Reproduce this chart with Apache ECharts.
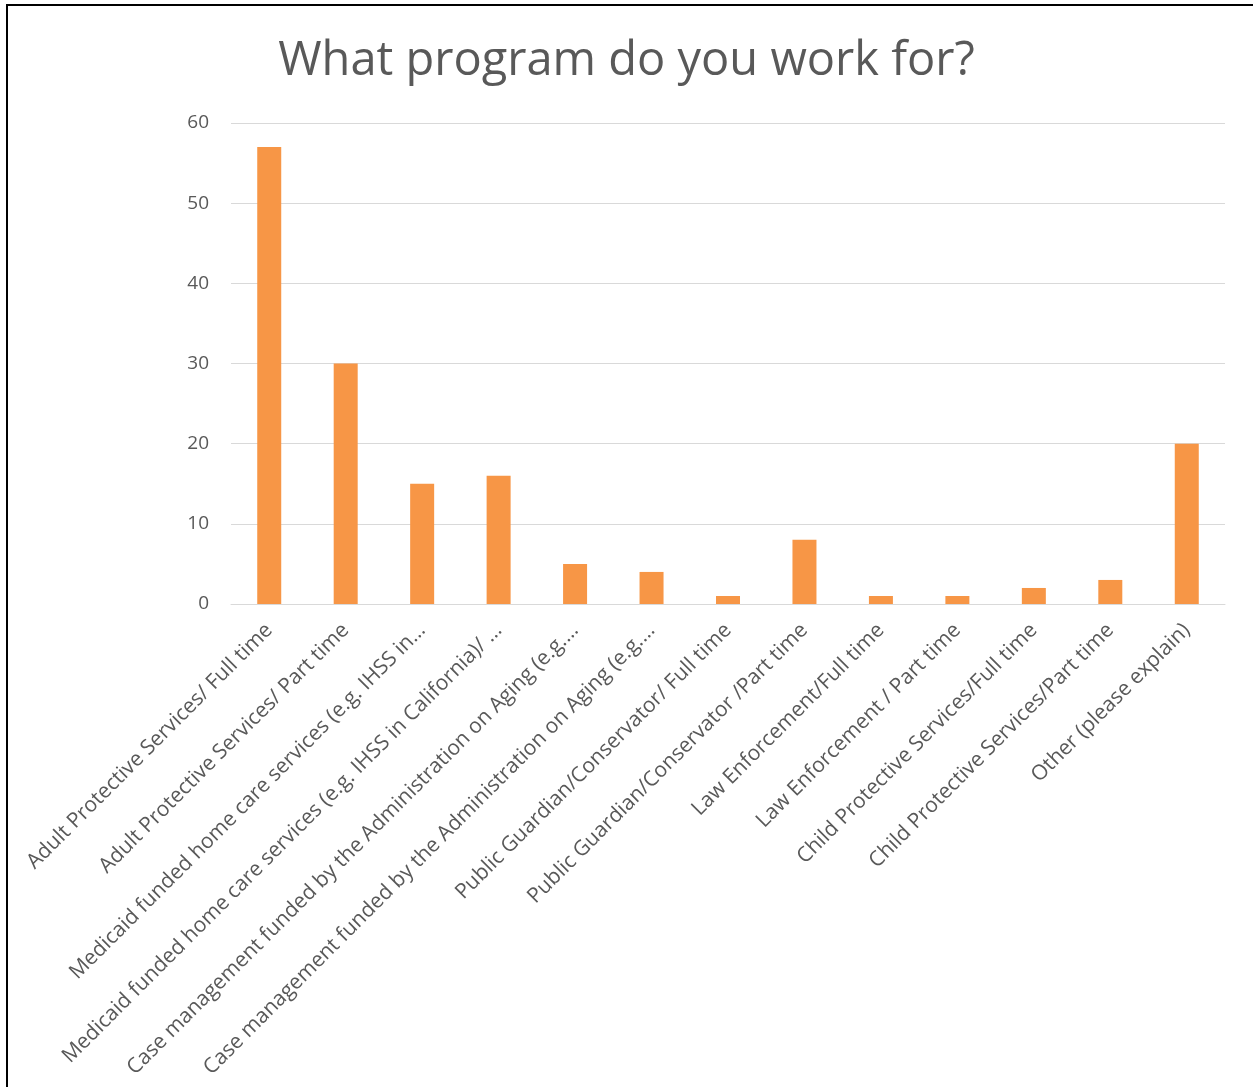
<!DOCTYPE html>
<html>
<head>
<meta charset="utf-8">
<script src="https://cdn.jsdelivr.net/npm/echarts@6/dist/echarts.min.js"></script>
<style>
html,body{margin:0;padding:0;background:#fff;}
#chart{width:1253px;height:1087px;}
</style>
</head>
<body>
<div id="chart"></div>
<script>
const titleText = 'What program do you work for?';
const categories = [
  'Adult Protective Services/ Full time',
  'Adult Protective Services/ Part time',
  'Medicaid funded home care services (e.g. IHSS in…',
  'Medicaid funded home care services (e.g. IHSS in California)/ …',
  'Case management funded by the Administration on Aging (e.g.…',
  'Case management funded by the Administration on Aging (e.g.…',
  'Public Guardian/Conservator/ Full time',
  'Public Guardian/Conservator /Part time',
  'Law Enforcement/Full time',
  'Law Enforcement / Part time',
  'Child Protective Services/Full time',
  'Child Protective Services/Part time',
  'Other (please explain)'
];
const values = [57, 30, 15, 16, 5, 4, 1, 8, 1, 1, 2, 3, 20];
const yTicks = {min: 0, max: 60, interval: 10};

const chart = echarts.init(document.getElementById('chart'));
chart.setOption({
  animation: false,
  backgroundColor: '#fff',
  textStyle: {fontFamily: 'Open Sans'},
  title: {
    text: titleText,
    left: 'center',
    top: 33,
    textStyle: {fontFamily: 'Open Sans', fontSize: 47, fontWeight: 'normal', color: '#595959'}
  },
  graphic: [{
    type: 'rect',
    shape: {x: 7, y: 5, width: 1400, height: 1300},
    style: {fill: 'none', stroke: '#000', lineWidth: 2},
    silent: true
  }],
  grid: {left: 231, right: 28, top: 123, bottom: 483},
  xAxis: {
    type: 'category',
    data: categories,
    axisLine: {lineStyle: {color: '#d9d9d9', width: 1}},
    axisTick: {show: false},
    axisLabel: {
      interval: 0,
      rotate: 45,
      margin: 23,
      fontSize: 21,
      color: '#595959',
      fontFamily: 'Open Sans'
    }
  },
  yAxis: {
    type: 'value',
    min: yTicks.min,
    max: yTicks.max,
    interval: yTicks.interval,
    axisLine: {show: false},
    axisTick: {show: false},
    splitLine: {lineStyle: {color: '#d9d9d9', width: 1}},
    axisLabel: {fontSize: 19, color: '#595959', margin: 22, fontFamily: 'Open Sans'}
  },
  series: [{
    type: 'bar',
    data: values,
    barWidth: 24,
    itemStyle: {color: '#f79646'}
  }]
});
</script>
</body>
</html>
